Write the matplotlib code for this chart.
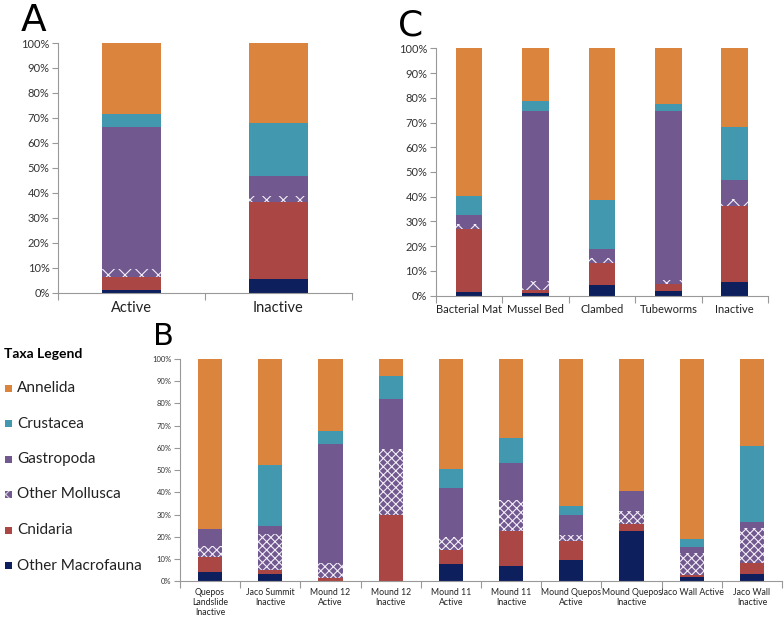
import matplotlib
matplotlib.use("Agg")
import matplotlib.pyplot as plt
import numpy as np
from matplotlib.patches import Rectangle

plt.rcParams['font.family'] = ['Lato', 'DejaVu Sans']
plt.rcParams['hatch.linewidth'] = 0.8

taxa = ["Other Macrofauna", "Cnidaria", "Other Mollusca", "Gastropoda", "Crustacea", "Annelida"]
colors = {"Other Macrofauna": "#0E1F5E", "Cnidaria": "#AA4643", "Other Mollusca": "#71588F",
          "Gastropoda": "#71588F", "Crustacea": "#4298AF", "Annelida": "#DB843D"}

# segment heights (%) bottom to top: OM, Cnid, OMoll, Gastro, Crust (Annelida fills to 100)
a_cats = ["Active", "Inactive"]
a_om = [1.2, 5.6]
a_cn = [5.2, 30.7]
a_mo = [2.9, 2.6]
a_ga = [57.1, 7.7]
a_cr = [5.0, 21.5]

c_cats = ["Bacterial Mat", "Mussel Bed", "Clambed", "Tubeworms", "Inactive"]
c_om = [1.3, 0.9, 4.3, 1.9, 5.4]
c_cn = [25.5, 1.4, 9.0, 2.8, 30.9]
c_mo = [2.0, 3.8, 1.8, 1.6, 2.6]
c_ga = [3.8, 68.4, 3.8, 68.5, 7.8]
c_cr = [7.6, 4.3, 19.6, 2.7, 21.3]

b_cats = ["Quepos\nLandslide\nInactive", "Jaco Summit\nInactive", "Mound 12\nActive", "Mound 12\nInactive",
          "Mound 11\nActive", "Mound 11\nInactive", "Mound Quepos\nActive", "Mound Quepos\nInactive",
          "Jaco Wall Active", "Jaco Wall\nInactive"]
b_om = [4.0, 3.3, 0.0, 0.0, 7.8, 6.9, 9.6, 22.5, 1.8, 3.3]
b_cn = [7.1, 1.9, 1.6, 29.8, 6.3, 15.6, 8.7, 3.4, 1.2, 4.8]
b_mo = [4.8, 16.1, 6.6, 29.9, 5.8, 14.1, 2.5, 5.7, 9.9, 16.0]
b_ga = [7.6, 3.6, 53.6, 22.2, 22.2, 16.8, 9.2, 9.0, 2.7, 2.4]
b_cr = [0.0, 27.6, 5.7, 10.5, 8.4, 10.9, 3.9, 0.0, 3.6, 34.5]

W, H = 784, 620
fig = plt.figure(figsize=(W / 100, H / 100), dpi=100)


def draw(ax, cats, om, cn, mo, ga, cr, tick_fs, cat_fs, hatch):
    n = len(cats)
    x = np.arange(n)
    om, cn, mo, ga, cr = map(np.array, (om, cn, mo, ga, cr))
    an = 100 - (om + cn + mo + ga + cr)
    bottom = np.zeros(n)
    width = 0.4
    for name, vals in zip(taxa, [om, cn, mo, ga, cr, an]):
        if name == "Other Mollusca":
            ax.bar(x, vals, width, bottom=bottom, color=colors[name], edgecolor="#F2EEF8",
                   hatch=hatch, linewidth=0)
        else:
            ax.bar(x, vals, width, bottom=bottom, color=colors[name], linewidth=0)
        bottom = bottom + vals
    ax.set_xlim(-0.5, n - 0.5)
    ax.set_ylim(0, 100)
    ax.set_yticks(np.arange(0, 101, 10))
    ax.set_yticklabels([f"{v}%" for v in range(0, 101, 10)], fontsize=tick_fs, color="#333333")
    ax.set_xticks(x)
    ax.set_xticklabels(cats, fontsize=cat_fs, color="#222222", linespacing=1.1)
    ax.set_xticks(np.arange(-0.5, n, 1.0), minor=True)
    ax.tick_params(axis="x", which="major", length=0, pad=6)
    ax.tick_params(axis="x", which="minor", length=5, color="#999999", width=0.8)
    ax.tick_params(axis="y", length=4, color="#999999", width=0.8, pad=2)
    for s in ("top", "right"):
        ax.spines[s].set_visible(False)
    for s in ("left", "bottom"):
        ax.spines[s].set_color("#999999")
        ax.spines[s].set_linewidth(0.8)
    ax.set_axisbelow(True)


axA = fig.add_axes([58 / W, 1 - 292.7 / H, 294 / W, 249.7 / H])
draw(axA, a_cats, a_om, a_cn, a_mo, a_ga, a_cr, 8, 10.5, "xx")

axC = fig.add_axes([435.7 / W, 1 - 295.7 / H, 332.3 / W, 247.4 / H])
draw(axC, c_cats, c_om, c_cn, c_mo, c_ga, c_cr, 8, 8, "xx")

axB = fig.add_axes([180 / W, 1 - 581.3 / H, 602 / W, 222.3 / H])
draw(axB, b_cats, b_om, b_cn, b_mo, b_ga, b_cr, 5.5, 6.3, "xxxx")
axB.tick_params(axis="x", which="major", pad=5)

fig.text(21 / W, 1 - 31 / H, "A", fontsize=27, family="DejaVu Sans", va="baseline", ha="left")
fig.text(398 / W, 1 - 36 / H, "C", fontsize=26, family="DejaVu Sans", va="baseline", ha="left")
fig.text(153 / W, 1 - 345 / H, "B", fontsize=22, family="DejaVu Sans", va="baseline", ha="left")

# legend
fig.text(4 / W, 1 - 354 / H, "Taxa Legend", fontsize=10, fontweight="bold", va="center", ha="left")
leg_items = ["Annelida", "Crustacea", "Gastropoda", "Other Mollusca", "Cnidaria", "Other Macrofauna"]
for i, name in enumerate(leg_items):
    yc = 388 + i * 35.5
    sq = 7
    is_moll = name == "Other Mollusca"
    r = Rectangle((5 / W, 1 - (yc + sq / 2) / H), sq / W, sq / H, transform=fig.transFigure,
                  facecolor=colors[name], edgecolor="#D8D0E6" if is_moll else colors[name],
                  linewidth=0, hatch="xxx" if is_moll else None)
    fig.patches.append(r)
    fig.text(17 / W, 1 - yc / H, name, fontsize=11, va="center", ha="left", color="#222222")

fig.savefig("out.png", dpi=100)
